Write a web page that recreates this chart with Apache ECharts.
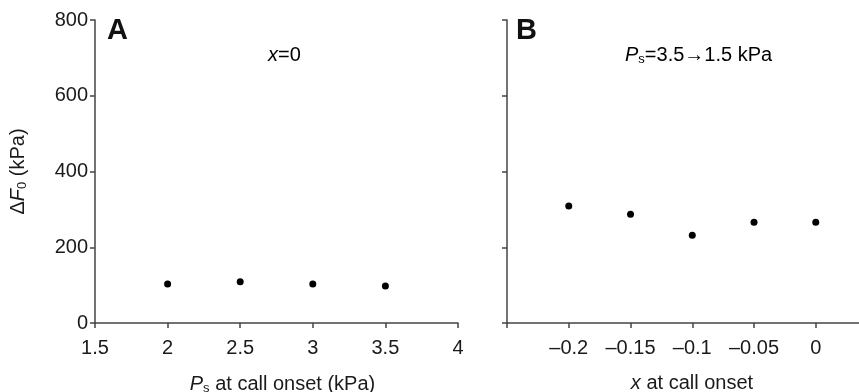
<!DOCTYPE html>
<html><head><meta charset="utf-8">
<script src="https://cdn.jsdelivr.net/npm/echarts@6/dist/echarts.min.js"></script>
<style>html,body{margin:0;padding:0;background:#fff}#c{width:859px;height:392px}</style>
</head><body><div id="c"></div>
<script>
// Panel A: x = 0
const psValues = [2, 2.5, 3, 3.5];
const dF0A = [103, 109, 103, 98];
// Panel B: Ps = 3.5 -> 1.5 kPa
const xValues = [-0.2, -0.15, -0.1, -0.05, 0];
const dF0B = [309, 287, 232, 266, 266];
const xTicksB = [-0.25, -0.2, -0.15, -0.1, -0.05, 0];
const xLabelsB = [-0.2, -0.15, -0.1, -0.05, 0];

const FONT = 'Liberation Sans, Arial, sans-serif';
const TXT = '#1a1a1a';
const AX = '#444';
const fs = 20;

function axisCommon() {
  return {
    axisLine: { show: true, onZero: false, lineStyle: { color: AX, width: 1.5 } },
    axisTick: { show: true, length: 5, inside: false, lineStyle: { color: AX, width: 1.5 } },
    splitLine: { show: false },
    axisLabel: { color: TXT, fontSize: fs, fontFamily: FONT }
  };
}
const rich = {
  i: { fontStyle: 'italic', fontSize: fs, fontFamily: FONT, color: TXT },
  sub: { fontSize: 13, fontFamily: FONT, color: TXT, verticalAlign: 'bottom', padding: [9, 0, 0, 0] },
  n: { fontSize: fs, fontFamily: FONT, color: TXT }
};

const chart = echarts.init(document.getElementById('c'), null, { renderer: 'canvas' });
chart.setOption({
  animation: false,
  backgroundColor: '#fff',
  grid: [
    { left: 95, right: 401, top: 20, bottom: 69, containLabel: false, outerBoundsMode: 'none' },
    { left: 507, right: 0, top: 20, bottom: 69, containLabel: false, outerBoundsMode: 'none' }
  ],
  xAxis: [
    Object.assign(axisCommon(), {
      gridIndex: 0, type: 'value', min: 1.5, max: 4, interval: 0.5,
      name: '{i|P}{sub|s}{n| at call onset (kPa)}', nameLocation: 'middle', nameGap: 50,
      nameTextStyle: { rich: rich, padding: [0, 0, 0, 12] },
      axisLabel: { color: TXT, fontSize: fs, fontFamily: FONT, margin: 15 }
    }),
    Object.assign(axisCommon(), {
      gridIndex: 1, type: 'value', min: -0.25, max: 0.035,
      name: '{i|x}{n| at call onset}', nameLocation: 'middle', nameGap: 50,
      nameTextStyle: { rich: rich, padding: [0, 0, 0, 18] },
      axisTick: { show: true, length: 5, lineStyle: { color: AX, width: 1.5 }, customValues: xTicksB },
      axisLabel: { color: TXT, fontSize: fs, fontFamily: FONT, margin: 15, customValues: xLabelsB,
        formatter: v => String(v).replace('-', '\u2013') }
    })
  ],
  yAxis: [
    Object.assign(axisCommon(), {
      gridIndex: 0, type: 'value', min: 0, max: 800, interval: 200,
      name: '{n|\u0394}{i|F}{sub|0}{n| (kPa)}', nameLocation: 'middle', nameGap: 66, nameRotate: 90,
      nameTextStyle: { rich: rich },
      axisLabel: { color: TXT, fontSize: fs, fontFamily: FONT, margin: 7 }
    }),
    Object.assign(axisCommon(), {
      gridIndex: 1, type: 'value', min: 0, max: 800, interval: 200,
      axisLabel: { show: false }
    })
  ],
  series: [
    { type: 'scatter', xAxisIndex: 0, yAxisIndex: 0, symbolSize: 7,
      itemStyle: { color: '#000', opacity: 1 }, data: psValues.map((v, i) => [v, dF0A[i]]) },
    { type: 'scatter', xAxisIndex: 1, yAxisIndex: 1, symbolSize: 7,
      itemStyle: { color: '#000', opacity: 1 }, data: xValues.map((v, i) => [v, dF0B[i]]) }
  ],
  graphic: [
    { type: 'text', left: 107, top: 16, style: { text: 'A', font: 'bold 29px ' + FONT, fill: '#111' } },
    { type: 'text', left: 516, top: 16, style: { text: 'B', font: 'bold 29px ' + FONT, fill: '#111' } },
    { type: 'text', left: 268, top: 45, style: { text: '{i|x}{n|=0}', rich: rich } },
    { type: 'text', left: 625, top: 45, style: { text: '{i|P}{sub|s}{n|=3.5\u21921.5 kPa}', rich: rich } }
  ]
});
</script></body></html>
